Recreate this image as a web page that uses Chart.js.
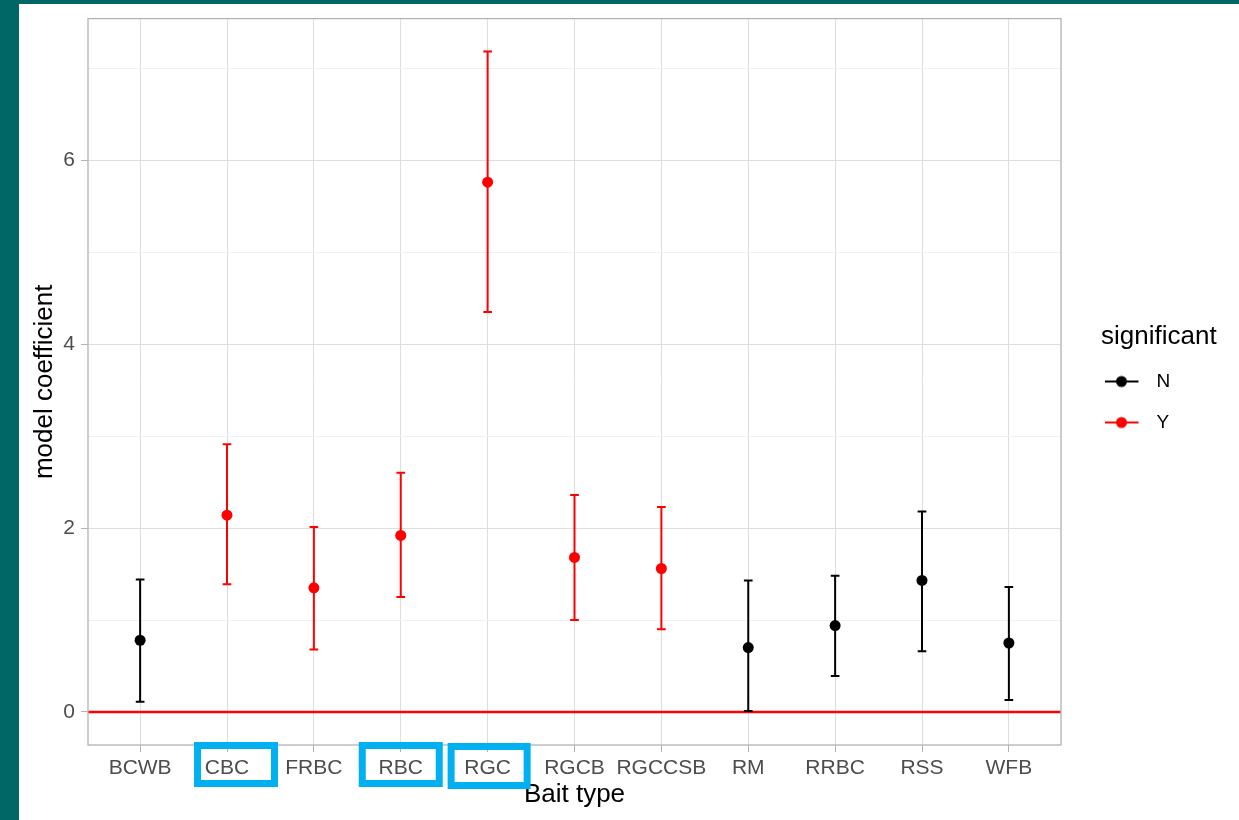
<!DOCTYPE html>
<html>
<head>
<meta charset="utf-8">
<script src="https://cdn.jsdelivr.net/npm/chart.js@4.4.1/dist/chart.umd.min.js"></script>
<style>
  html, body { margin: 0; padding: 0; background: #ffffff; }
  #wrap { width: 1239px; height: 820px; position: relative; }
  canvas { display: block; }
</style>
</head>
<body>
<div id="wrap"><canvas id="c" width="1239" height="820"></canvas></div>
<script>
// ---------------- data ----------------
const categories  = ['BCWB', 'CBC', 'FRBC', 'RBC', 'RGC', 'RGCB', 'RGCCSB', 'RM', 'RRBC', 'RSS', 'WFB'];
const coefficient = [0.78, 2.14, 1.35, 1.92, 5.76, 1.68, 1.56, 0.70, 0.94, 1.43, 0.75];
const lowerCI     = [0.11, 1.39, 0.68, 1.25, 4.35, 1.00, 0.90, 0.01, 0.39, 0.66, 0.13];
const upperCI     = [1.44, 2.91, 2.01, 2.60, 7.18, 2.36, 2.23, 1.43, 1.48, 2.18, 1.36];
const significant = ['N', 'Y', 'Y', 'Y', 'Y', 'Y', 'Y', 'N', 'N', 'N', 'N'];
const groups      = ['N', 'Y'];
const highlighted = ['CBC', 'RBC', 'RGC'];
const yMajorTicks = [0, 2, 4, 6];
const yMinorTicks = [1, 3, 5, 7];
const referenceLine = 0;

// ---------------- styling ----------------
const groupColors = { N: '#000000', Y: '#FF0000' };
const FONT = '"Liberation Sans", Arial, Helvetica, sans-serif';
const CAP_HALF = 0.05;   // errorbar cap half-width in category units
const X_EXPAND = 0.6;    // discrete axis expansion
const Y_MIN = -0.359, Y_MAX = 7.539;

Chart.defaults.font.family = FONT;

function pointData(g) {
  const out = [];
  categories.forEach((c, i) => { if (significant[i] === g) out.push({ x: i, y: coefficient[i] }); });
  return out;
}
function errData(g) {
  const out = [];
  categories.forEach((c, i) => {
    if (significant[i] !== g) return;
    out.push({ x: i - CAP_HALF, y: upperCI[i] }, { x: i + CAP_HALF, y: upperCI[i] }, { x: i, y: null });
    out.push({ x: i, y: upperCI[i] }, { x: i, y: lowerCI[i] }, { x: i, y: null });
    out.push({ x: i - CAP_HALF, y: lowerCI[i] }, { x: i + CAP_HALF, y: lowerCI[i] }, { x: i, y: null });
  });
  return out;
}
function keyImage(color) {
  const c = document.createElement('canvas');
  c.width = 62; c.height = 14;
  const g = c.getContext('2d');
  g.strokeStyle = color; g.lineWidth = 2;
  g.beginPath(); g.moveTo(1, 7); g.lineTo(34.5, 7); g.stroke();
  g.fillStyle = color;
  g.beginPath(); g.arc(17.5, 7, 5.5, 0, Math.PI * 2); g.fill();
  return c;
}
const keyImgs = groups.map(g => keyImage(groupColors[g]));

const datasets = [];
groups.forEach(g => datasets.push({
  type: 'scatter', label: g, data: pointData(g),
  backgroundColor: groupColors[g], borderColor: groupColors[g],
  pointRadius: 5.5, pointHoverRadius: 5.5, borderWidth: 0, pointBorderWidth: 0
}));
groups.forEach(g => datasets.push({
  type: 'line', label: 'err-' + g, data: errData(g), showLine: true, spanGaps: false,
  borderColor: groupColors[g], borderWidth: 2, pointRadius: 0, fill: false, tension: 0,
  borderCapStyle: 'butt'
}));
datasets.push({
  type: 'line', label: 'zero', showLine: true,
  data: [{ x: -X_EXPAND, y: referenceLine }, { x: categories.length - 1 + X_EXPAND, y: referenceLine }],
  borderColor: '#FF0000', borderWidth: 2.5, pointRadius: 0, fill: false
});

const decorPlugin = {
  id: 'decor',
  afterLayout(chart) {
    // let the legend box reach the right edge so its title is not clipped
    const lg = chart.legend;
    if (lg) { lg.right = chart.width; lg.width = lg.right - lg.left; }
  },
  beforeDraw(chart) {
    const ctx = chart.ctx;
    ctx.save();
    ctx.fillStyle = '#ffffff';
    ctx.fillRect(0, 0, chart.width, chart.height);
    ctx.fillStyle = '#006666';
    ctx.fillRect(0, 0, 19, chart.height);
    ctx.fillRect(0, 0, chart.width, 4);
    ctx.restore();
  },
  afterDraw(chart, args, opts) {
    const ctx = chart.ctx, ca = chart.chartArea;
    ctx.save();
    ctx.strokeStyle = '#B3B3B3';
    ctx.lineWidth = 1.3;
    ctx.strokeRect(ca.left, ca.top, ca.right - ca.left, ca.bottom - ca.top);
    // highlight boxes around selected category labels
    const xs = chart.scales.x;
    ctx.strokeStyle = '#00B0F0';
    ctx.lineWidth = 7;
    highlighted.forEach(cat => {
      const i = categories.indexOf(cat);
      const px = xs.getPixelForValue(i);
      const b = opts.boxes[cat];
      ctx.strokeRect(px + b.l + 3.5, ca.bottom + b.t + 3.5, (b.r - b.l) - 7, (b.b - b.t) - 7);
    });
    ctx.restore();
  }
};

new Chart(document.getElementById('c'), {
  type: 'scatter',
  data: { datasets },
  plugins: [decorPlugin],
  options: {
    responsive: false,
    animation: false,
    events: [],
    layout: { padding: { left: 0, top: 17, right: 78, bottom: 0 } },
    scales: {
      x: {
        type: 'linear', position: 'bottom',
        min: -X_EXPAND, max: categories.length - 1 + X_EXPAND,
        afterBuildTicks: s => { s.ticks = categories.map((c, i) => ({ value: i })); },
        afterFit: s => { s.height = 75; },
        ticks: {
          callback: v => categories[v] ?? '',
          autoSkip: false, maxRotation: 0, minRotation: 0,
          font: { size: 21 }, color: '#4D4D4D', padding: 4
        },
        grid: { color: '#DEDEDE', lineWidth: 1, drawTicks: true, tickLength: 7, tickColor: '#B3B3B3', tickWidth: 1 },
        border: { display: false },
        title: { display: true, text: 'Bait type', color: '#000000', font: { size: 26 }, padding: { top: 0, bottom: 10 } }
      },
      y: {
        type: 'linear', position: 'left',
        min: Y_MIN, max: Y_MAX,
        afterBuildTicks: s => { s.ticks = yMajorTicks.concat(yMinorTicks).sort((a, b) => a - b).map(v => ({ value: v })); },
        afterFit: s => { s.width = 88; },
        ticks: {
          callback: v => yMajorTicks.includes(v) ? String(v) : '',
          font: { size: 21 }, color: '#4D4D4D', padding: 6
        },
        grid: {
          color: c => (c.tick && yMajorTicks.includes(c.tick.value)) ? '#DEDEDE' : '#F0F0F0',
          tickColor: c => (c.tick && yMajorTicks.includes(c.tick.value)) ? '#B3B3B3' : 'rgba(0,0,0,0)',
          lineWidth: 1, drawTicks: true, tickLength: 7, tickWidth: 1
        },
        border: { display: false },
        title: { display: true, text: 'model coefficient', color: '#000000', font: { size: 26 }, padding: { top: 29, bottom: 0 } }
      },
      spacer: {
        type: 'linear', position: 'right', display: true,
        ticks: { display: false }, grid: { display: false }, border: { display: false },
        afterFit: s => { s.width = 40; }
      }
    },
    plugins: {
      decor: {
        boxes: {
          CBC: { l: -33, r: 51, t: -3, b: 42 },
          RBC: { l: -42, r: 42, t: -3, b: 42 },
          RGC: { l: -40, r: 43, t: -2, b: 44 }
        }
      },
      tooltip: { enabled: false },
      legend: {
        display: true, position: 'right', align: 'start', maxWidth: 60,
        title: {
          display: true, text: 'significant', color: '#000000', position: 'start',
          font: { size: 26, lineHeight: 1 }, padding: { top: 307, bottom: 0 }
        },
        labels: {
          usePointStyle: true, pointStyleWidth: 24, padding: 22,
          color: '#000000', font: { size: 19 },
          generateLabels: chart => {
            const items = Chart.defaults.plugins.legend.labels.generateLabels(chart);
            return items.filter(it => it.datasetIndex < groups.length)
                        .map(it => Object.assign({}, it, { pointStyle: keyImgs[it.datasetIndex], text: groups[it.datasetIndex] }));
          }
        }
      }
    }
  }
});
</script>
</body>
</html>
